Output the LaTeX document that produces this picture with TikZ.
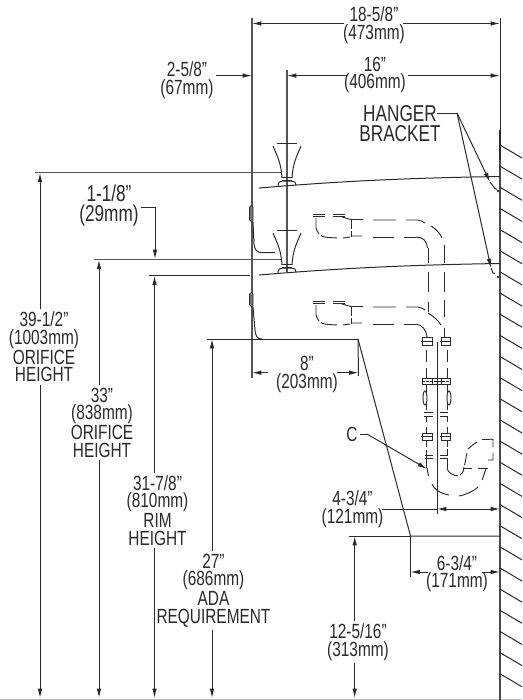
\documentclass[tikz,border=0pt]{standalone}
\usepackage{fontspec}
\setmainfont[FakeStretch=0.75]{Liberation Sans}
\usetikzlibrary{arrows.meta,calc}
\definecolor{ink}{HTML}{2A2A2A}
\tikzset{
  lbl/.style={font=\fontsize{15.4}{13.1}\selectfont,align=center,inner sep=0pt,outer sep=2pt,text=ink},
  lblbig/.style={lbl,font=\fontsize{17.2}{15}\selectfont},
  thin line/.style={draw=ink,line width=0.75pt},
  dimline/.style={thin line,-{Latex[length=7pt,width=3.4pt]}},
  hidden/.style={draw=ink,line width=0.7pt},
  grayline/.style={draw=ink!80,line width=0.9pt}
}
\newcommand{\faucetshape}{%
  \draw[thin line] (277,143)--(297,143);
  \draw[thin line] (273,146) .. controls (277,156) and (281,162) .. (282,178);
  \draw[thin line] (301,146) .. controls (297,156) and (293,162) .. (292,178);
  \draw[thin line] (282,177)--(292,177) (282,180)--(292,180);
  \draw[thin line] (278,186) .. controls (278,182) and (280,181) .. (283,181) -- (292,181) .. controls (295,181) and (296,183) .. (296,185);
}
\newcommand{\basinshape}{%
  \draw[hidden] (313,214)--(325,214) (313,216)--(325,216) (333,214)--(345,214) (333,216)--(345,216);
  \draw[hidden] (316,218)--(316,228) .. controls (317,231) and (318,233) .. (319,234);
  \draw[hidden] (321,235.5) .. controls (323,237) and (326,237.5) .. (337,238);
  \draw[hidden] (343,238)--(350,237);
  \draw[hidden] (351,220)--(351,229) (351,231)--(351,237);
  \draw[hidden] (342,217)--(351,219.5)--(363,219.5) (351,236)--(362,236);
  \draw[hidden] (373,220)--(396,220) (406,220)--(418,220) .. controls (421,220.5) and (423,221.5) .. (425,223);
  \draw[hidden] (373,237)--(394,237) (404,237)--(416,237);
}
\begin{document}
\begin{tikzpicture}[x=0.75pt,y=-0.75pt]
\useasboundingbox (0,0) rectangle (522,700);
\fill[white] (0,0) rectangle (522,700);
% named points
\coordinate (wallT) at (500,18);
\coordinate (leftT) at (252,18);
\coordinate (leftB) at (252,378);
\coordinate (h39a) at (35,172.7);
\coordinate (h39b) at (282,172.7);
\coordinate (h33a) at (94,259.7);
\coordinate (h33b) at (282,259.7);
\coordinate (h31a) at (149,275.7);
\coordinate (h31b) at (250,275.7);
\coordinate (h27a) at (207,339);
\coordinate (h27b) at (358,339);
\coordinate (botFoot) at (40,698);
\coordinate (kneeB) at (410.5,536);
\coordinate (wallB) at (500,536);
% bottom edge
\draw[black!25,line width=0.75pt] (0,699.5)--(522,699.5);
% wall
\draw[ink,line width=0.8pt] (500,130)--(500,160);
\draw[ink!85,line width=1.5pt] (500,160)--(500,700);
\foreach \n in {0,...,25}{
  \pgfmathsetmacro{\yy}{145+21.15*\n}
  \draw[thin line] (500,\yy)--(522,\yy+13);
}
% extension lines
\draw[grayline] (leftT)--(leftB);
\draw[thin line] (wallT)--(500,130);
\draw[grayline] (h39a)--(h39b);
\draw[grayline] (h33a)--(h33b);
\draw[thin line] (h31a)--(h31b);
\draw[thin line] (h27a)--(h27b);
\draw[grayline] (287,70)--(287,272);
% sink rims
\draw[thin line] (259,188) .. controls (330,182) and (400,178) .. (500,176.5);
\draw[thin line] (259,275) .. controls (330,269) and (400,265) .. (500,263.5);
% front profile
\draw[fill=ink!65,draw=ink,line width=0.5pt] (249.5,207) -- (252,205) -- (253,207) -- (253,221) -- (252,222) -- (249.5,220) -- cycle;
\draw[fill=ink!65,draw=ink,line width=0.5pt] (249.5,294) -- (252,292) -- (253,294) -- (253,306) -- (252,307) -- (249.5,305) -- cycle;
\draw[thin line] (253,222) -- (254,244) .. controls (254.5,250) and (257,252.5) .. (262,252.5) -- (275,252.5);
\draw[thin line] (253,307) -- (255,330) .. controls (255.5,336) and (257,339) .. (262,339);
% lower sink
\draw[thin line] (h27b)--(kneeB)--(wallB);
\draw[thin line] (349,536)--(kneeB);
% faucets
\faucetshape
\begin{scope}[shift={(0,87)}]\faucetshape\end{scope}
% basins and pipes
\basinshape
\begin{scope}[shift={(0,87)}]\basinshape\end{scope}
\draw[hidden] (431,226) .. controls (436,229) and (440,233) .. (442,238);
\draw[hidden] (416,237) .. controls (423,237) and (427,241) .. (427.5,248);
\draw[hidden] (428,248)--(428,263) (428,272)--(428,292) (428,302)--(428,312);
\draw[hidden] (444.6,245)--(444.6,263) (444.6,272)--(444.6,292) (444.6,300)--(444.6,317) (444.6,328)--(444.6,337);
\draw[hidden] (428,313) .. controls (433,316) and (438,320) .. (441,325);
\draw[hidden] (416,324) .. controls (422,325) and (426,329) .. (427,337);
% drain centre line
\draw[thin line] (437,342)--(437,514);
% flanges
\foreach \yy/\hh in {337/8,433/7}{
  \draw[hidden] (422.5,\yy) rectangle (432,\yy+\hh);
  \draw[hidden] (441,\yy) rectangle (450,\yy+\hh);
  \draw[hidden] (421,\yy+\hh/2)--(433,\yy+\hh/2) (440,\yy+\hh/2)--(451,\yy+\hh/2);
}
\draw[hidden] (422.5,378) rectangle (450,384.5);
\draw[hidden,dash pattern=on 2pt off 1pt] (422,381.2)--(451,381.2);
\draw[hidden] (432,378)--(432,384.5) (441,378)--(441,384.5);
% tailpieces
\foreach \xx in {426,447}{
  \draw[hidden] (\xx,350)--(\xx,362) (\xx,368)--(\xx,378) (\xx,385)--(\xx,410) (\xx,417)--(\xx,422) (\xx,427)--(\xx,433) (\xx,441)--(\xx,447);
}
\draw[hidden,fill=white] (425,398) ellipse (2 and 7);
\draw[hidden,fill=white] (449,398) ellipse (2 and 7);
\draw[hidden] (424,412)--(433,412) (424,416)--(433,416) (440,412)--(448,412) (440,416)--(448,416);
\draw[hidden] (425,455)--(433,455) (425,458)--(433,458) (440,455)--(448,455) (440,458)--(448,458);
\draw[hidden] (426.5,450)--(426.5,468) (447,449)--(447,455) (447,458)--(447,468);
% P-trap
\draw[hidden] (447,468) .. controls (448,472) and (451,475) .. (458,476);
\draw[hidden] (460,475) .. controls (463,473) and (464,470) .. (464,467);
\draw[hidden] (464.5,465) .. controls (466,460) and (466,456) .. (467,453);
\draw[hidden] (468,449) .. controls (471,446) and (474,444) .. (477,442);
\draw[hidden] (482,439)--(490,439);
\draw[hidden] (490,439)--(493,439.5)--(493,447) (493,453)--(493,460)--(488,460);
\draw[hidden] (464,468)--(472,468) (478,468)--(488,468);
\draw[hidden] (486,469)--(482,480);
\draw[hidden] (427,468)--(428.5,476);
\draw[hidden] (432,484) .. controls (434,489) and (439,493) .. (449,495);
\draw[hidden] (459,496) .. controls (465,495) and (474,491) .. (478,487);
% hanger bracket stubs
\draw[thin line] (490,182) -- (495,188.5) -- (497,189.5);
\fill[ink] (498,191) circle (1.3);
\draw[thin line] (491,268) -- (493,273) -- (495,273.5);
\fill[ink] (498,277) circle (1.3);
% labels
\node[lbl] (n185) at (374,25) {18-5/8"\\(473mm)};
\node[lbl] (n16)  at (375,75) {16"\\(406mm)};
\node[lbl] (n258) at (187,80) {2-5/8"\\(67mm)};
\node[lblbig] (nhb)  at (400,124) {HANGER\\BRACKET};
\node[lblbig,font=\fontsize{17.2}{15}\selectfont] (n118) at (109,206) {1-1/8"\\(29mm)};
\node[lbl] (n39)  at (44,347) {39-1/2"\\(1003mm)\\ORIFICE\\HEIGHT};
\node[lbl] (n33)  at (102,422.5) {33"\\(838mm)\\ORIFICE\\HEIGHT};
\node[lbl] (n31)  at (157.5,510.5) {31-7/8"\\(810mm)\\RIM\\HEIGHT};
\node[lbl] (n27)  at (213.5,590.5) {27"\\(686mm)\\ADA\\REQUIREMENT};
\node[lbl] (n8)   at (307,374.5) {8"\\(203mm)};
\node[lbl] (nc)   at (352,434) {C};
\node[lbl] (n434) at (352.5,509) {4-3/4"\\(121mm)};
\node[lbl] (n634) at (457,573.5) {6-3/4"\\(171mm)};
\node[lbl] (n125) at (358,642) {12-5/16"\\(313mm)};
% dimension lines: horizontal
\draw[dimline] (344,23.5)--(leftT|-0,23.5);
\draw[dimline] (403,23.5)--(wallT|-0,23.5);
\draw[dimline] (347,75.6)--(287,75.6);
\draw[dimline] (408,75.6)--(500,75.6);
\draw[dimline] (216,75.6)--(leftT|-0,75.6);
\draw[dimline] (268,372.7)--(252,372.7);
\draw[dimline] (337,372.7)--(358.5,372.7);
\draw[thin line] (h27b)--(358.5,376);
% 4-3/4
\draw[thin line] (382,509)--(437,509);
\draw[dimline] (448,509)--(437,509);
\draw[dimline] (448,509)--(500,509);
% 6-3/4
\draw[thin line] (kneeB)--(410.5,577);
\draw[dimline] (428,572)--(410.5,572);
\draw[dimline] (482,572)--(500,572);
% dimension lines: vertical
\draw[dimline] (n39.north-|botFoot)--(botFoot|-h39a);
\draw[dimline] (n39.south-|botFoot)--(botFoot);
\coordinate (f33) at (99,698);
\draw[dimline] (n33.north-|f33)--(f33|-h33a);
\draw[dimline] (n33.south-|f33)--(f33);
\coordinate (f31) at (154.5,698);
\draw[dimline] (n31.north-|f31)--(f31|-h31a);
\draw[dimline] (n31.south-|f31)--(f31);
\coordinate (f27) at (212,698);
\draw[dimline] (n27.north-|f27)--(f27|-h27a);
\draw[dimline] (n27.south-|f27)--(f27);
\coordinate (f12) at (354.7,698);
\draw[dimline] (n125.north-|f12)--(f12|-kneeB);
\draw[dimline] (n125.south-|f12)--(f12);
% leaders
\draw[dimline] (141,207.5)--(155,207.5)--(155,259);
\coordinate (hbk) at (457,113);
\draw[thin line] (437,113)--(hbk);
\draw[dimline] (hbk)--(490,182);
\draw[dimline] (hbk)--(491,268);
\draw[thin line] (nc.east)--(367,434);
\draw[dimline] (367,434)--(427,469);
\end{tikzpicture}
\end{document}
